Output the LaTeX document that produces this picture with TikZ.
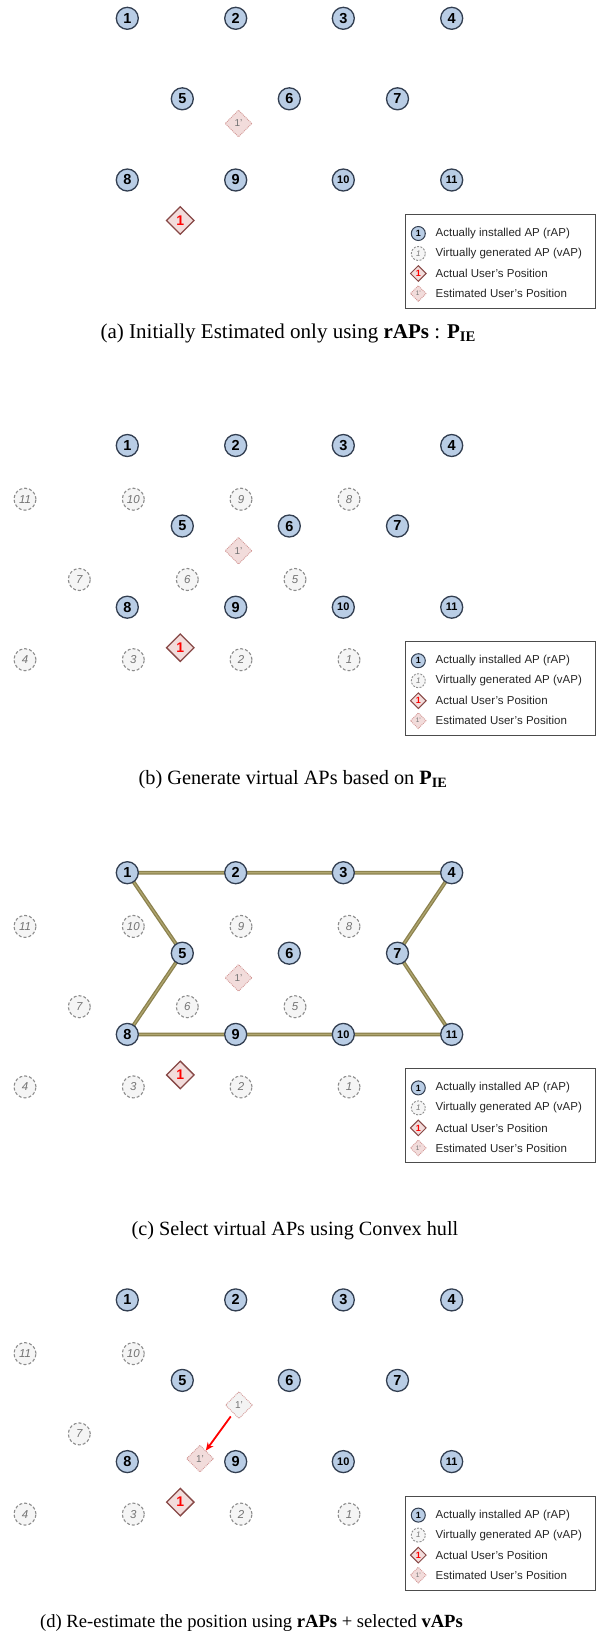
\documentclass[tikz,border=0pt]{standalone}
\usepackage{fontspec}
\setmainfont{Liberation Serif}
\setsansfont{Liberation Sans}
\usetikzlibrary{shapes.geometric,arrows.meta,backgrounds}
\definecolor{rapfill}{RGB}{185,205,229}
\definecolor{rapdraw}{RGB}{50,62,80}
\definecolor{vapdraw}{RGB}{140,140,140}
\definecolor{vapfill}{RGB}{245,245,245}
\definecolor{vaptext}{RGB}{115,115,115}
\definecolor{estfill}{RGB}{242,220,219}
\definecolor{estdraw}{RGB}{210,150,148}
\definecolor{actdraw}{RGB}{135,72,70}
\definecolor{hullc}{RGB}{140,130,78}
\definecolor{hulllight}{RGB}{176,166,112}
\definecolor{oldfill}{RGB}{243,243,243}
\tikzset{
  rap/.style={circle, draw=rapdraw, fill=rapfill, line width=1.3pt, minimum size=22pt, inner sep=0pt, font=\sffamily\bfseries\fontsize{14.5}{14.5}\selectfont},
  rapw/.style={rap, font=\sffamily\bfseries\fontsize{11}{11}\selectfont},
  vap/.style={circle, draw=vapdraw, fill=vapfill, dash pattern=on 3pt off 2pt, line width=1.1pt, minimum size=22pt, inner sep=0pt, text=vaptext, font=\sffamily\itshape\fontsize{11.5}{11.5}\selectfont},
  est/.style={diamond, draw=estdraw, fill=estfill, densely dotted, line width=0.9pt, minimum size=27pt, inner sep=0pt, text=vaptext, font=\sffamily\fontsize{10}{10}\selectfont},
  oldest/.style={est, fill=oldfill},
  act/.style={diamond, draw=actdraw, fill=estfill, line width=1.3pt, minimum size=28pt, inner sep=0pt, text=red, font=\sffamily\bfseries\fontsize{14}{14}\selectfont},
  legbox/.style={draw=black!70, line width=0.9pt, minimum width=190pt, minimum height=94pt, inner sep=0pt},
  lrap/.style={rap, minimum size=14pt, line width=1pt, font=\sffamily\bfseries\fontsize{9}{9}\selectfont},
  lvap/.style={vap, minimum size=14pt, dash pattern=on 2pt off 1.4pt, line width=0.9pt, font=\sffamily\itshape\fontsize{8}{8}\selectfont},
  lact/.style={act, minimum size=16pt, line width=1pt, font=\sffamily\bfseries\fontsize{9}{9}\selectfont},
  lest/.style={est, minimum size=16pt, font=\sffamily\fontsize{6.5}{6.5}\selectfont},
  ltext/.style={anchor=west, inner sep=0pt, text=black!85, font=\sffamily\fontsize{11.5}{12}\selectfont},
  caption/.style={anchor=base, inner sep=0pt, font=\fontsize{21}{24}\selectfont},
  hullline/.style={draw=hullc, line width=3.8pt, line join=round},
  hullshine/.style={draw=hulllight, line width=1.1pt, line join=round},
  movearrow/.style={draw=red, line width=1.8pt, -{Stealth[length=8pt,width=7pt]}, shorten <=4pt}
}
\newcommand\rapgrid[1]{%
  \node[rap] (#1r1) at (127.3,18.3) {1};
  \node[rap] (#1r2) at (235.7,18.3) {2};
  \node[rap] (#1r3) at (343.3,18.3) {3};
  \node[rap] (#1r4) at (451.7,18.3) {4};
  \node[rap] (#1r5) at (182.3,98.8) {5};
  \node[rap] (#1r6) at (289.3,98.8) {6};
  \node[rap] (#1r7) at (397.5,98.8) {7};
  \node[rap] (#1r8) at (127.3,180) {8};
  \node[rap] (#1r9) at (235.7,180) {9};
  \node[rapw] (#1r10) at (343.3,180) {10};
  \node[rapw] (#1r11) at (451.7,180) {11};
}
\newcommand\vapgrid[1]{%
  \node[vap] (#1v11) at (25,72) {11};
  \node[vap] (#1v10) at (133.3,72) {10};
  \node[vap] (#1v9) at (241,72) {9};
  \node[vap] (#1v8) at (349,72) {8};
  \node[vap] (#1v7) at (79.3,152.3) {7};
  \node[vap] (#1v6) at (187.3,152.3) {6};
  \node[vap] (#1v5) at (295,152.3) {5};
  \node[vap] (#1v4) at (25,232.5) {4};
  \node[vap] (#1v3) at (133.3,232.5) {3};
  \node[vap] (#1v2) at (241,232.5) {2};
  \node[vap] (#1v1) at (349,232.5) {1};
}
\newcommand\legendbox[1]{%
  \node[legbox] (#1leg) at (500,261.5) {};
  \node[lrap] (#1l1) at (418.3,233.5) {1};
  \node[ltext] (#1t1) at (435.5,233.5) {Actually installed AP (rAP)};
  \node[lvap] (#1l2) at (418.3,253.5) {1};
  \node[ltext] (#1t2) at (435.5,253.5) {Virtually generated AP (vAP)};
  \node[lact] (#1l3) at (418.3,273.5) {1};
  \node[ltext] (#1t3) at (435.5,273.5) {Actual User’s Position};
  \node[lest] (#1l4) at (418.3,293.5) {1’};
  \node[ltext] (#1t4) at (435.5,293.5) {Estimated User’s Position};
}
\begin{document}
\begin{tikzpicture}[x=1pt,y=-1pt]
\begin{pgfonlayer}{background}
\fill[white] (0,0) rectangle (600,1652);
\end{pgfonlayer}
\useasboundingbox (0,0) rectangle (600,1652);
% ---------- (a)
\begin{scope}
  \rapgrid{a}
  \node[est] (aest) at (238.5,123.5) {1’};
  \node[act] (aact) at (180.3,220.5) {1};
  \legendbox{a}
\end{scope}
\node[caption] (capa) at (288.3,338) {(a) Initially Estimated only using \textbf{rAPs} : \textbf{P\textsubscript{IE}}};
% ---------- (b)
\begin{scope}[shift={(0,427.2)}]
  \rapgrid{b}
  \vapgrid{b}
  \node[est] (best) at (238.5,123.5) {1’};
  \node[act] (bact) at (180.3,220.5) {1};
  \legendbox{b}
\end{scope}
\node[caption, font=\fontsize{20.3}{24}\selectfont] (capb) at (293,784) {(b) Generate virtual APs based on \textbf{P\textsubscript{IE}}};
% ---------- (c)
\begin{scope}[shift={(0,854.4)}]
  \rapgrid{c}
  \vapgrid{c}
  \node[est] (cest) at (238.5,123.5) {1’};
  \node[act] (cact) at (180.3,220.5) {1};
  \legendbox{c}
\end{scope}
\begin{pgfonlayer}{background}
  \draw[hullline] (cr1.center) -- (cr2.center) -- (cr3.center) -- (cr4.center) -- (cr7.center) -- (cr11.center) -- (cr10.center) -- (cr9.center) -- (cr8.center) -- (cr5.center) -- cycle;
  \draw[hullshine] (cr1.center) -- (cr2.center) -- (cr3.center) -- (cr4.center) -- (cr7.center) -- (cr11.center) -- (cr10.center) -- (cr9.center) -- (cr8.center) -- (cr5.center) -- cycle;
\end{pgfonlayer}
\node[caption, font=\fontsize{20.2}{24}\selectfont] (capc) at (295,1235) {(c) Select virtual APs using Convex hull};
% ---------- (d)
\begin{scope}[shift={(0,1281.6)}]
  \rapgrid{d}
  \node[vap] (dv11) at (25,72) {11};
  \node[vap] (dv10) at (133.3,72) {10};
  \node[vap] (dv7) at (79.3,152.3) {7};
  \node[vap] (dv4) at (25,232.5) {4};
  \node[vap] (dv3) at (133.3,232.5) {3};
  \node[vap] (dv2) at (241,232.5) {2};
  \node[vap] (dv1) at (349,232.5) {1};
  \node[oldest] (dold) at (239,123.5) {1’};
  \node[est] (dnew) at (200,177) {1’};
  \node[act] (dact) at (180.3,220.5) {1};
  \legendbox{d}
\end{scope}
\draw[movearrow] (dold) -- (dnew);
\node[caption, font=\fontsize{18.6}{22}\selectfont] (capd) at (251.5,1627) {(d) Re-estimate the position using \textbf{rAPs} + selected \textbf{vAPs}};
\end{tikzpicture}
\end{document}
